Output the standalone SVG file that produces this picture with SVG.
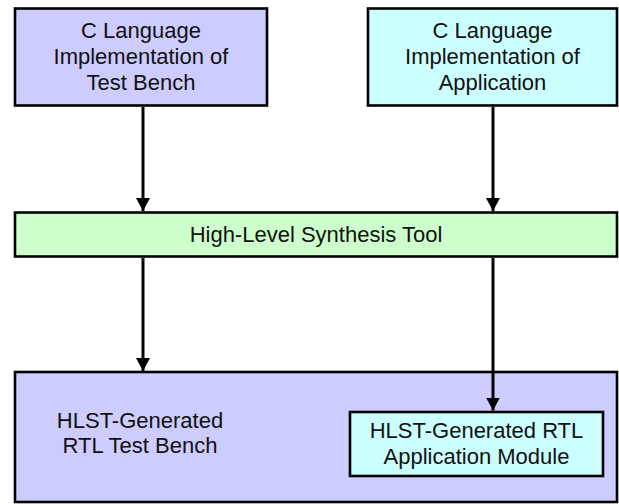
<svg xmlns="http://www.w3.org/2000/svg" width="619" height="504" viewBox="0 0 619 504">
<style>
.box{stroke:#000;stroke-width:2.6}
.t{font-family:"Liberation Sans",Arial,sans-serif;font-size:22px;fill:#111;text-anchor:middle}
.c{stroke:#000;stroke-width:3;fill:none}
</style>
<defs>
<marker id="ah" viewBox="0 0 13 14" refX="13" refY="7" markerWidth="13" markerHeight="14" markerUnits="userSpaceOnUse" orient="auto">
<path d="M0,0 L13,7 L0,14 Z" fill="#000"/>
</marker>
</defs>
<rect width="619" height="504" fill="#fff"/>
<g id="tb-c">
<rect class="box" x="15" y="8.5" width="252" height="97" fill="#CCCCFF"/>
<text class="t" x="141" y="38">C Language</text>
<text class="t" x="141" y="64">Implementation of</text>
<text class="t" x="141" y="90">Test Bench</text>
</g>
<g id="app-c">
<rect class="box" x="368" y="8.5" width="249" height="97" fill="#CCFFFF"/>
<text class="t" x="492.5" y="38">C Language</text>
<text class="t" x="492.5" y="64">Implementation of</text>
<text class="t" x="492.5" y="90">Application</text>
</g>
<g id="hlst">
<rect class="box" x="15" y="212.5" width="602" height="44" fill="#CCFFCC"/>
<text class="t" x="316" y="242">High-Level Synthesis Tool</text>
</g>
<g id="rtl-tb">
<rect class="box" x="15" y="372" width="602" height="130" fill="#CCCCFF"/>
<text class="t" x="140" y="428">HLST-Generated</text>
<text class="t" x="140" y="453">RTL Test Bench</text>
</g>
<g id="rtl-app">
<rect class="box" x="350" y="412" width="253" height="64" fill="#CCFFFF"/>
<text class="t" x="476.5" y="438">HLST-Generated RTL</text>
<text class="t" x="476.5" y="464">Application Module</text>
</g>
<g id="connectors">
<line class="c" x1="143" y1="107" x2="143" y2="211" marker-end="url(#ah)"/>
<line class="c" x1="493" y1="107" x2="493" y2="211" marker-end="url(#ah)"/>
<line class="c" x1="143" y1="258" x2="143" y2="371" marker-end="url(#ah)"/>
<line class="c" x1="493" y1="258" x2="493" y2="410.5" marker-end="url(#ah)"/>
</g>
</svg>
